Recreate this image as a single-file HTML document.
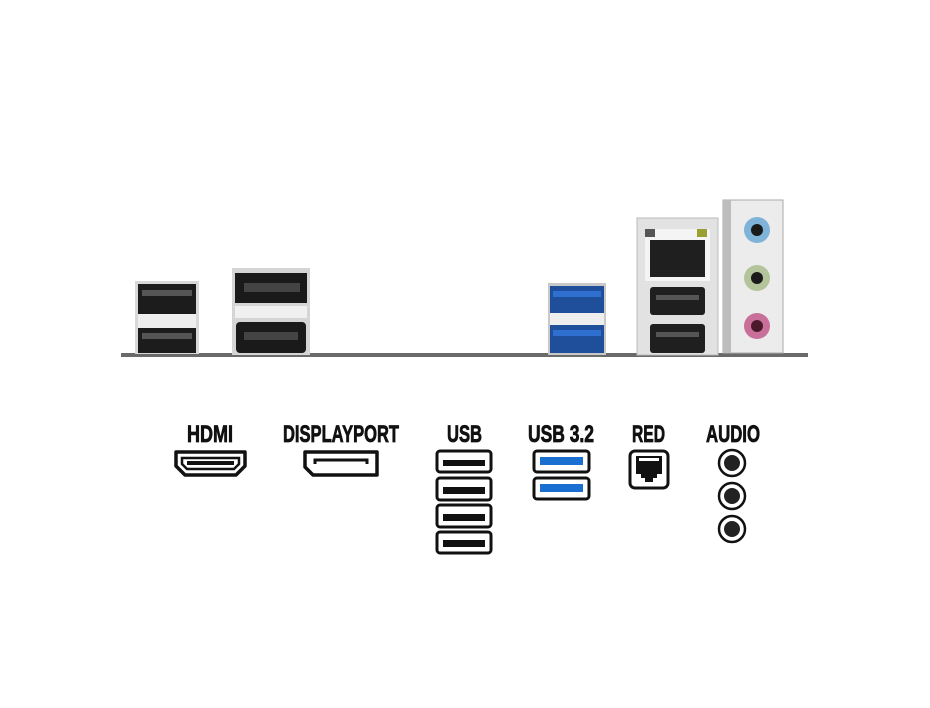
<!DOCTYPE html>
<html><head><meta charset="utf-8"><style>
html,body{margin:0;padding:0;background:#fff;}
svg{display:block}
.l{font-family:"Liberation Sans Narrow","Liberation Sans",sans-serif;font-weight:bold;font-size:24px;fill:#111;stroke:#111;stroke-width:0.8}
</style></head><body>
<svg width="930" height="708" viewBox="0 0 930 708" xmlns="http://www.w3.org/2000/svg">
<rect x="121" y="353" width="687" height="4" fill="#6a6a6a"/>
<rect x="135" y="281" width="64" height="73" fill="#d8d8d8"/>
<rect x="138" y="284" width="58" height="30" fill="#1c1c1c"/>
<rect x="142" y="290" width="50" height="6" fill="#555"/>
<rect x="138" y="314" width="58" height="14" fill="#eee"/>
<rect x="138" y="328" width="58" height="25" fill="#1c1c1c"/>
<rect x="142" y="333" width="50" height="6" fill="#555"/>
<rect x="232" y="268" width="78" height="87" fill="#d5d5d5"/>
<rect x="235" y="273" width="72" height="30" fill="#1a1a1a"/>
<rect x="244" y="283" width="56" height="9" fill="#444"/>
<rect x="235" y="306" width="72" height="12" fill="#f0f0f0"/>
<rect x="236" y="322" width="70" height="31" rx="4" fill="#1a1a1a"/>
<rect x="244" y="332" width="54" height="8" fill="#444"/>
<rect x="548" y="283" width="58" height="72" fill="#c8c8c8"/>
<rect x="550" y="286" width="54" height="27" fill="#1f4f9a"/>
<rect x="553" y="291" width="48" height="6" fill="#2e6fd0"/>
<rect x="550" y="313" width="54" height="12" fill="#eee"/>
<rect x="550" y="325" width="54" height="28" fill="#1f4f9a"/>
<rect x="553" y="330" width="48" height="6" fill="#2e6fd0"/>
<rect x="637" y="218" width="81" height="137" fill="#e2e2e2" stroke="#bbb"/>
<rect x="645" y="229" width="65" height="52" fill="#f4f4f4"/>
<rect x="650" y="240" width="55" height="37" fill="#1f1f1f"/>
<rect x="645" y="229" width="10" height="8" fill="#555"/>
<rect x="697" y="229" width="10" height="8" fill="#9aa030"/>
<rect x="650" y="287" width="55" height="28" rx="3" fill="#1f1f1f"/>
<rect x="656" y="295" width="43" height="5" fill="#555"/>
<rect x="650" y="324" width="55" height="29" rx="3" fill="#1f1f1f"/>
<rect x="656" y="332" width="43" height="5" fill="#555"/>
<rect x="723" y="200" width="60" height="153" fill="#ececec" stroke="#aaa"/>
<rect x="723" y="200" width="8" height="153" fill="#bdbdbd"/>
<circle cx="757" cy="230" r="13" fill="#7fb4d8"/><circle cx="757" cy="230" r="6" fill="#1a1a1a"/>
<circle cx="757" cy="278" r="13" fill="#b3c49a"/><circle cx="757" cy="278" r="6" fill="#1a1a1a"/>
<circle cx="757" cy="326" r="13" fill="#c8709a"/><circle cx="757" cy="326" r="6" fill="#4a1a2a"/>

<text class="l" x="187" y="442" textLength="46" lengthAdjust="spacingAndGlyphs">HDMI</text>
<text class="l" x="283" y="442" textLength="116" lengthAdjust="spacingAndGlyphs">DISPLAYPORT</text>
<text class="l" x="447" y="442" textLength="35" lengthAdjust="spacingAndGlyphs">USB</text>
<text class="l" x="528" y="442" textLength="66" lengthAdjust="spacingAndGlyphs">USB 3.2</text>
<text class="l" x="632" y="442" textLength="33" lengthAdjust="spacingAndGlyphs">RED</text>
<text class="l" x="706" y="442" textLength="54" lengthAdjust="spacingAndGlyphs">AUDIO</text>

<path d="M176 452 H245 V466 L236 475 H185 L176 466 Z" fill="#fff" stroke="#111" stroke-width="3.5" stroke-linejoin="round"/>
<path d="M182 458 H239 V464 L234 469 H187 L182 464 Z" fill="#fff" stroke="#111" stroke-width="2.5"/>
<rect x="187" y="461" width="47" height="4" fill="#111"/>
<path d="M305 452 H377 V475 H313 L305 467 Z" fill="#fff" stroke="#111" stroke-width="3.5" stroke-linejoin="round"/>
<path d="M315 464 V460 H367 V464" fill="none" stroke="#111" stroke-width="3"/>
<g fill="#fff" stroke="#111" stroke-width="3">
<rect x="437" y="451" width="54" height="21" rx="3"/>
<rect x="437" y="478" width="54" height="22" rx="3"/>
<rect x="437" y="505" width="54" height="22" rx="3"/>
<rect x="437" y="532" width="54" height="21" rx="3"/>
<rect x="534" y="451" width="55" height="21" rx="3"/>
<rect x="534" y="478" width="55" height="21" rx="3"/>
</g>
<g fill="#111">
<rect x="443" y="460" width="42" height="6"/>
<rect x="443" y="487" width="42" height="7"/>
<rect x="443" y="514" width="42" height="7"/>
<rect x="443" y="540" width="42" height="7"/>
</g>
<g fill="#1a6fd0">
<rect x="540" y="457" width="43" height="8"/>
<rect x="540" y="484" width="43" height="8"/>
</g>
<rect x="630" y="451" width="38" height="37" rx="5" fill="#fff" stroke="#111" stroke-width="3"/>
<path d="M636 456 H662 V474 H657 V478 H653 V482 H645 V478 H641 V474 H636 Z" fill="#111"/>
<rect x="639" y="458" width="20" height="3" fill="#fff"/>
<g stroke="#111" stroke-width="2.5" fill="#fff">
<circle cx="732" cy="463" r="13"/><circle cx="732" cy="496" r="13"/><circle cx="732" cy="529" r="13"/>
</g>
<g fill="#222">
<circle cx="732" cy="463" r="8"/><circle cx="732" cy="496" r="8"/><circle cx="732" cy="529" r="8"/>
</g>
</svg>
</body></html>
